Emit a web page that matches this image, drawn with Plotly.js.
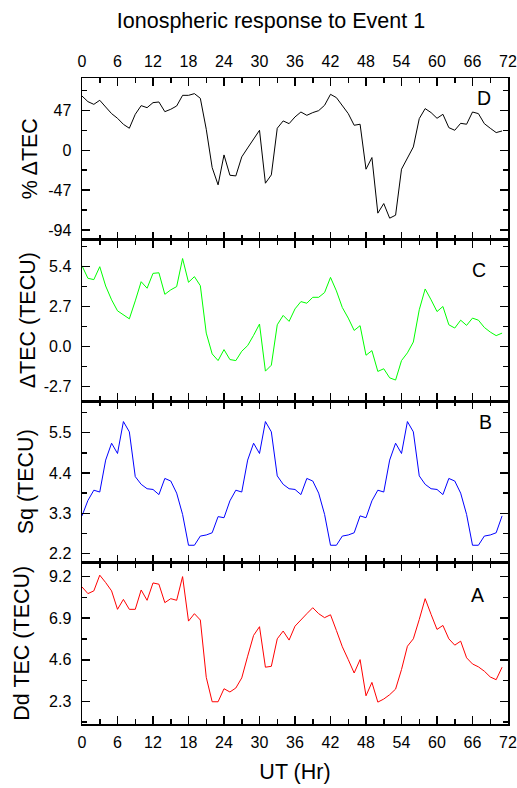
<!DOCTYPE html>
<html>
<head>
<meta charset="utf-8">
<script src="https://cdn.plot.ly/plotly-3.0.1.min.js"></script>
<style>html,body{margin:0;padding:0;background:#fff;}#chart{width:517px;height:788px;}</style>
</head>
<body>
<div id="chart"></div>
<script>
// UT hours 0..71
var hours = [0,1,2,3,4,5,6,7,8,9,10,11,12,13,14,15,16,17,18,19,20,21,22,23,
             24,25,26,27,28,29,30,31,32,33,34,35,36,37,38,39,40,41,42,43,44,45,46,47,
             48,49,50,51,52,53,54,55,56,57,58,59,60,61,62,63,64,65,66,67,68,69,70,71];

// Panel D: % ΔTEC
var pctDTEC = [63.8,57.2,54.0,58.8,50.9,43.1,37.6,30.5,25.9,42.3,52.5,50.1,56.0,56.8,45.4,48.2,52.1,64.6,64.6,66.6,61.1,24.7,-20.4,-40.7,
               -5.5,-29.4,-30.2,-7.8,2.7,12.9,23.5,-38.8,-29.0,25.9,34.5,31.3,39.2,45.0,41.1,44.3,46.6,52.9,65.8,61.9,52.1,43.1,29.4,30.6,
               -22.3,-8.6,-74.0,-62.7,-79.9,-76.4,-22.3,-9.4,3.9,37.2,49.0,44.3,37.6,42.3,26.6,23.5,31.7,30.6,45.0,43.1,31.3,25.9,20.8,22.7];

// Panel C: ΔTEC (TECU)
var dTEC = [5.44,4.60,4.51,5.38,4.08,3.15,2.41,2.14,1.87,3.08,4.37,3.93,4.93,4.97,3.52,3.82,4.04,5.93,4.33,4.71,4.10,0.91,-0.49,-0.94,
            -0.20,-0.87,-0.94,-0.31,0.07,0.76,1.52,-1.65,-1.25,1.47,2.10,1.70,2.54,3.03,2.92,3.32,3.32,3.64,4.66,3.75,2.63,1.92,1.09,1.41,
            -0.58,-0.27,-1.67,-1.49,-2.10,-2.25,-0.94,-0.42,0.31,2.48,3.88,3.15,2.36,2.70,1.47,1.25,1.78,1.43,1.92,1.78,1.29,0.98,0.74,0.91];

// Panel B: Sq (TECU)
var sqTEC = [3.23,3.65,3.93,3.88,4.75,5.21,4.93,5.80,5.52,4.30,4.09,3.97,3.95,3.81,4.25,4.18,3.85,3.27,2.43,2.43,2.68,2.71,2.77,3.21,
             3.18,3.64,3.93,3.88,4.75,5.21,4.93,5.80,5.52,4.32,4.09,3.97,3.95,3.81,4.25,4.18,3.85,3.27,2.43,2.43,2.68,2.71,2.77,3.23,
             3.18,3.64,3.93,3.88,4.75,5.21,4.93,5.80,5.52,4.32,4.09,3.97,3.95,3.81,4.25,4.18,3.85,3.27,2.43,2.43,2.68,2.71,2.77,3.23];

// Panel A: Dd TEC (TECU)
var ddTEC = [8.63,8.26,8.41,9.28,8.87,8.41,7.39,7.94,7.39,7.39,8.46,7.89,8.85,8.78,7.76,7.98,7.89,9.20,6.74,7.15,6.80,3.63,2.28,2.28,
             3.00,2.82,3.04,3.60,4.80,5.95,6.43,4.19,4.24,5.76,6.19,5.69,6.46,6.78,7.15,7.48,7.15,6.93,7.09,6.22,5.32,4.61,3.87,4.61,
             2.61,3.35,2.26,2.43,2.67,2.98,4.06,5.35,5.76,6.83,7.98,7.11,6.28,6.50,5.76,5.41,5.63,4.71,4.37,4.21,3.97,3.65,3.50,4.19];

// Tick labels
var xTickVals = [0,6,12,18,24,30,36,42,48,54,60,66,72];
var xTickText = ['0','6','12','18','24','30','36','42','48','54','60','66','72'];
var dTickVals = [-94,-47,0,47];
var dTickText = ['-94','-47','0','47'];
var cTickVals = [-2.7,0,2.7,5.4];
var cTickText = ['-2.7','0.0','2.7','5.4'];
var bTickVals = [2.2,3.3,4.4,5.5];
var bTickText = ['2.2','3.3','4.4','5.5'];
var aTickVals = [2.3,4.6,6.9,9.2];
var aTickText = ['2.3','4.6','6.9','9.2'];

var panelLetters = ['D','C','B','A'];
var yTitles = ['% ΔTEC','ΔTEC (TECU)','Sq (TECU)','Dd TEC (TECU)'];

var FONT = 'Liberation Sans, Arial, Helvetica, sans-serif';

var traces = [
  {x: hours, y: ddTEC, xaxis:'x', yaxis:'y', type:'scatter', mode:'lines', line:{color:'#ff0000', width:1}, name:'Dd TEC'},
  {x: hours, y: sqTEC, xaxis:'x2', yaxis:'y2', type:'scatter', mode:'lines', line:{color:'#0000ff', width:1}, name:'Sq'},
  {x: hours, y: dTEC, xaxis:'x3', yaxis:'y3', type:'scatter', mode:'lines', line:{color:'#00ff00', width:1}, name:'ΔTEC'},
  {x: hours, y: pctDTEC, xaxis:'x4', yaxis:'y4', type:'scatter', mode:'lines', line:{color:'#000000', width:1}, name:'% ΔTEC'}
];

function xax(anchor, extra){
  var a = {
    anchor: anchor, range:[0,72], tickmode:'array', tickvals:xTickVals, ticktext:xTickText,
    ticks:'inside', ticklen:8, tickwidth:1.5, tickcolor:'#000',
    showline:true, linewidth:1.5, linecolor:'#000', mirror:'ticks', showgrid:false, zeroline:false,
    minor:{tick0:0, dtick:3, ticks:'inside', ticklen:5, tickwidth:1.5, tickcolor:'#000', showgrid:false},
    tickfont:{size:16, color:'#000'}, ticklabelstandoff:3, showticklabels:false
  };
  for (var k in extra) a[k] = extra[k];
  return a;
}
function yax(domain, range, vals, text, title, standoff){
  var step = vals[1]-vals[0];
  return {
    domain: domain, range: range, tickmode:'array', tickvals:vals, ticktext:text,
    ticks:'inside', ticklen:8, tickwidth:1.5, tickcolor:'#000',
    showline:true, linewidth:1.5, linecolor:'#000', mirror:'ticks', showgrid:false, zeroline:false,
    minor:{tick0:vals[0], dtick:step/2, ticks:'inside', ticklen:5, tickwidth:1.5, tickcolor:'#000', showgrid:false},
    tickfont:{size:16, color:'#000'}, ticklabelstandoff:6,
    title:{text:title, font:{size:21.5, color:'#000'}, standoff:standoff}
  };
}

var layout = {
  width:517, height:788,
  margin:{l:82, r:9, t:78, b:64},
  paper_bgcolor:'#fff', plot_bgcolor:'#fff',
  font:{family:FONT, color:'#000'},
  showlegend:false,
  title:{text:'Ionospheric response to Event 1', font:{size:21.5, color:'#000'}, x:271/517, xref:'container', xanchor:'center', y:1-20/788, yref:'container', yanchor:'middle'},
  xaxis:  xax('y',  {showticklabels:true, side:'bottom', title:{text:'UT (Hr)', font:{size:21.5, color:'#000'}, standoff:14}}),
  xaxis2: xax('y2', {}),
  xaxis3: xax('y3', {}),
  xaxis4: xax('y4', {showticklabels:true, side:'top'}),
  yaxis:  yax([0,0.25],   [1.05,9.98], aTickVals, aTickText, yTitles[3], 13),
  yaxis2: yax([0.25,0.5], [1.96,6.36], bTickVals, bTickText, yTitles[2], 9),
  yaxis3: yax([0.5,0.75], [-3.66,7.21], cTickVals, cTickText, yTitles[1], 2),
  yaxis4: yax([0.75,1],   [-105,85], dTickVals, dTickText, yTitles[0], 4),
  annotations:[
    {text:panelLetters[0], xref:'paper', yref:'paper', x:0.9425, y:0.9686, showarrow:false, xanchor:'center', yanchor:'middle', font:{size:19.5, color:'#000'}},
    {text:panelLetters[1], xref:'paper', yref:'paper', x:0.933, y:0.7026, showarrow:false, xanchor:'center', yanchor:'middle', font:{size:19.5, color:'#000'}},
    {text:panelLetters[2], xref:'paper', yref:'paper', x:0.947, y:0.4675, showarrow:false, xanchor:'center', yanchor:'middle', font:{size:19.5, color:'#000'}},
    {text:panelLetters[3], xref:'paper', yref:'paper', x:0.928, y:0.200, showarrow:false, xanchor:'center', yanchor:'middle', font:{size:19.5, color:'#000'}}
  ]
};

Plotly.newPlot('chart', traces, layout, {displayModeBar:false, staticPlot:true});
</script>
</body>
</html>
